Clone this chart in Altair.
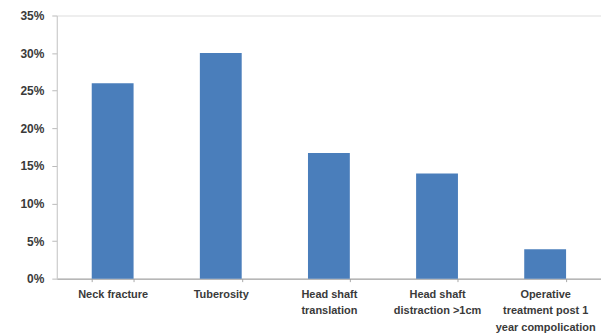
import altair as alt
import pandas as pd

categories = [
    "Neck fracture",
    "Tuberosity",
    "Head shaft|translation",
    "Head shaft|distraction >1cm",
    "Operative|treatment post 1|year compolication",
]
values = [0.26, 0.30, 0.167, 0.14, 0.039]
y_ticks = [0, 0.05, 0.10, 0.15, 0.20, 0.25, 0.30, 0.35]

df = pd.DataFrame({"category": categories, "value": values})

chart = (
    alt.Chart(df)
    .mark_bar(color="#4A7EBB")
    .encode(
        x=alt.X(
            "category:N",
            sort=categories,
            scale=alt.Scale(paddingInner=0.613, paddingOuter=0.323),
            axis=alt.Axis(
                title=None,
                labelAngle=0,
                labelExpr="split(datum.label, '|')",
                labelFont="Liberation Sans",
                labelFontWeight="bold",
                labelFontSize=11,
                labelColor="#3a3a3a",
                labelLineHeight=16.5,
                labelPadding=7,
                tickBand="extent",
                tickSize=3,
                tickColor="#aaaaaa",
                domainColor="#999999",
                labelLimit=250,
            ),
        ),
        y=alt.Y(
            "value:Q",
            scale=alt.Scale(domain=[0, 0.35], nice=False),
            axis=alt.Axis(
                title=None,
                values=y_ticks,
                format=".0%",
                grid=False,
                labelFont="Liberation Sans",
                labelFontWeight="bold",
                labelFontSize=12,
                labelColor="#3a3a3a",
                labelPadding=8,
                tickSize=5,
                tickColor="#bbbbbb",
                domainColor="#cccccc",
            ),
        ),
    )
    .properties(
        width=546,
        height=264,
        autosize=alt.AutoSizeParams(type="none"),
        padding={"left": 57, "top": 15, "right": 0, "bottom": 54},
    )
    .configure_view(stroke=None)
    .configure(background="white")
)

chart.save("out.html", embed_options={"renderer": "svg", "actions": False})
